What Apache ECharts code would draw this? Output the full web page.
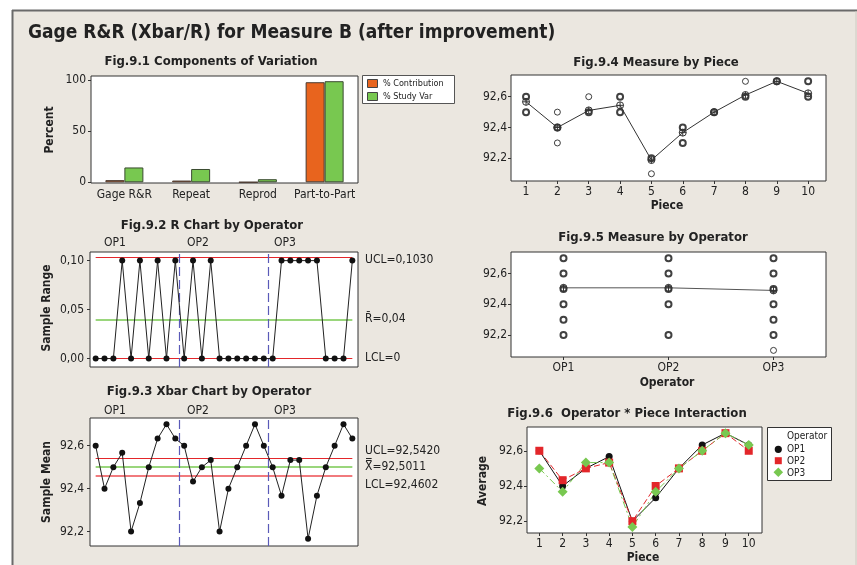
<!DOCTYPE html>
<html><head><meta charset="utf-8">
<script src="https://cdn.jsdelivr.net/npm/echarts@6/dist/echarts.min.js"></script>
<style>html,body{margin:0;padding:0;background:#fff}#c{width:857px;height:565px}</style>
</head><body><div id="c"></div>
<script>
// ---------- data ----------
const componentCategories = ['Gage R&R', 'Repeat', 'Reprod', 'Part-to-Part'];
const pctContribution = [2.1, 1.7, 0.1, 97.9];
const pctStudyVar = [14.5, 13.0, 3.0, 98.9];

const operators = ['OP1', 'OP2', 'OP3'];
const pieces = [1, 2, 3, 4, 5, 6, 7, 8, 9, 10];

const rangeOP1 = [0, 0, 0, 0.1, 0, 0.1, 0, 0.1, 0, 0.1];
const rangeOP2 = [0, 0.1, 0, 0.1, 0, 0, 0, 0, 0, 0];
const rangeOP3 = [0, 0.1, 0.1, 0.1, 0.1, 0.1, 0, 0, 0, 0.1];
const rChartLimits = [0.1030, 0.04, 0];          // UCL, R-bar, LCL

const xbarOP1 = [92.6, 92.4, 92.5, 92.567, 92.2, 92.333, 92.5, 92.633, 92.7, 92.633];
const xbarOP2 = [92.6, 92.433, 92.5, 92.533, 92.2, 92.4, 92.5, 92.6, 92.7, 92.6];
const xbarOP3 = [92.5, 92.367, 92.533, 92.533, 92.167, 92.367, 92.5, 92.6, 92.7, 92.633];
const xbarChartLimits = [92.5420, 92.5011, 92.4602];  // UCL, X-double-bar, LCL

const pieceMeans = [92.567, 92.4, 92.511, 92.544, 92.189, 92.367, 92.5, 92.611, 92.7, 92.622];
const operatorMeans = [92.507, 92.507, 92.490];

// individual measurements: operator -> piece -> 3 trials
const measOP1 = [[92.6,92.6,92.6],[92.4,92.4,92.4],[92.5,92.5,92.5],[92.5,92.6,92.6],[92.2,92.2,92.2],
                 [92.3,92.3,92.4],[92.5,92.5,92.5],[92.6,92.6,92.7],[92.7,92.7,92.7],[92.6,92.6,92.7]];
const measOP2 = [[92.6,92.6,92.6],[92.4,92.4,92.5],[92.5,92.5,92.5],[92.5,92.5,92.6],[92.2,92.2,92.2],
                 [92.4,92.4,92.4],[92.5,92.5,92.5],[92.6,92.6,92.6],[92.7,92.7,92.7],[92.6,92.6,92.6]];
const measOP3 = [[92.5,92.5,92.5],[92.3,92.4,92.4],[92.5,92.5,92.6],[92.5,92.5,92.6],[92.1,92.2,92.2],
                 [92.3,92.4,92.4],[92.5,92.5,92.5],[92.6,92.6,92.6],[92.7,92.7,92.7],[92.6,92.6,92.7]];

const percentTicks = [0, 50, 100];
const rangeTicks = [0, 0.05, 0.10];
const measureTicks = [92.2, 92.4, 92.6];

// ---------- helpers ----------
const FONT = '"DejaVu Sans Condensed", "DejaVu Sans", Verdana, sans-serif';
const TXT = '#222';
const RED = '#e3262a', GREEN = '#78c850', ORANGE = '#e8641e', BLUE = '#5a5ab8';
const comma = (v, d) => v.toFixed(d).replace('.', ',');

const allRanges = rangeOP1.concat(rangeOP2, rangeOP3);
const allXbar = xbarOP1.concat(xbarOP2, xbarOP3);
const subgroupData = arr => arr.map((v, i) => [i + 1, v]);
const measAll = [measOP1, measOP2, measOP3];

function dotData(keyFn) {
  const counts = {};
  measAll.forEach((op, oi) => op.forEach((trials, pi) => trials.forEach(v => {
    const k = keyFn(oi, pi) + '|' + v;
    counts[k] = (counts[k] || 0) + 1;
  })));
  return Object.keys(counts).map(k => {
    const [x, y] = k.split('|');
    return { value: [+x, +y], itemStyle: { borderWidth: counts[k] > 1 ? 2 : 1 } };
  });
}
const byPieceDots = dotData((oi, pi) => pieces[pi]);
const byOperatorDots = dotData((oi, pi) => oi);

const meanSymbol = 'path://M10,5A5,5,0,1,1,0,5A5,5,0,1,1,10,5ZM5,0L5,10M0,5L10,5';

const gridBase = { show: true, backgroundColor: '#fff', borderColor: '#333', borderWidth: 1, containLabel: false };
const yBase = (gi, min, max, ticks, dec, margin) => ({
  type: 'value', gridIndex: gi, min: min, max: max,
  splitLine: { show: false }, axisLine: { show: false },
  axisTick: { show: true, length: 3, lineStyle: { color: '#333' }, customValues: ticks },
  axisLabel: { customValues: ticks, color: TXT, fontFamily: FONT, fontSize: 12, margin: margin,
    formatter: v => dec < 0 ? String(v) : comma(v, dec) }
});
const xPiece = (gi, min, max) => ({
  type: 'value', gridIndex: gi, min: min, max: max,
  splitLine: { show: false }, axisLine: { show: false },
  axisTick: { show: true, length: 3, lineStyle: { color: '#333' }, customValues: pieces },
  axisLabel: { customValues: pieces, color: TXT, fontFamily: FONT, fontSize: 12, margin: 5 }
});
const xHidden = gi => ({ type: 'value', gridIndex: gi, min: 0.36, max: 30.64, show: false, splitLine: { show: false } });

function txt(text, x, y, size, bold, align, rot, color) {
  const el = { type: 'text', x: x, y: y, silent: true,
    style: { text: text, x: 0, y: 0, fill: color || TXT, font: (bold ? 'bold ' : '') + size + 'px ' + FONT,
      textAlign: align || 'center', textVerticalAlign: 'middle' } };
  if (rot) el.rotation = rot;
  return el;
}

const limitLine = (y, color, w) => {
  const ls = { color: color, width: w || 1, type: 'solid', opacity: 1 };
  return [{ coord: [1, y], lineStyle: ls }, { coord: [30, y], lineStyle: ls }];
};
const opDivider = x => ({ xAxis: x, lineStyle: { color: BLUE, width: 1.2, type: [9, 4] } });

const chart = echarts.init(document.getElementById('c'), null, { renderer: 'canvas' });

const graphics = [
  { type: 'rect', z: -10, silent: true, shape: { x: 12, y: 10, width: 845, height: 560 }, style: { fill: '#ebe7e0' } },
  { type: 'line', z: -9, silent: true, shape: { x1: 12.5, y1: 10, x2: 12.5, y2: 565 }, style: { stroke: '#6a6a6a', lineWidth: 2 } },
  { type: 'line', z: -9, silent: true, shape: { x1: 12, y1: 10.5, x2: 857, y2: 10.5 }, style: { stroke: '#6a6a6a', lineWidth: 2 } },
  { type: 'line', z: -9, silent: true, shape: { x1: 856, y1: 11, x2: 856, y2: 565 }, style: { stroke: '#cfcac2', lineWidth: 1 } },

  txt('Gage R&R (Xbar/R) for Measure B (after improvement)', 28, 33, 19, true, 'left'),
  txt('Fig.9.1 Components of Variation', 211, 62, 13, true),
  txt('Fig.9.2 R Chart by Operator', 212, 226, 13, true),
  txt('Fig.9.3 Xbar Chart by Operator', 209, 392, 13, true),
  txt('Fig.9.4 Measure by Piece', 656, 63, 13, true),
  txt('Fig.9.5 Measure by Operator', 653, 238, 13, true),
  txt('Fig.9.6  Operator * Piece Interaction', 627, 414, 13, true),

  txt('Percent', 50, 130, 12, true, 'center', Math.PI / 2),
  txt('Sample Range', 47, 308, 12, true, 'center', Math.PI / 2),
  txt('Sample Mean', 47, 482, 12, true, 'center', Math.PI / 2),
  txt('Average', 483, 481, 12, true, 'center', Math.PI / 2),
  txt('Piece', 667, 206, 12, true),
  txt('Operator', 667, 383, 12, true),
  txt('Piece', 643, 558, 12, true),

  txt(operators[0], 115, 243, 12, false), txt(operators[1], 198, 243, 12, false), txt(operators[2], 285, 243, 12, false),
  txt(operators[0], 115, 411, 12, false), txt(operators[1], 198, 411, 12, false), txt(operators[2], 285, 411, 12, false),

  txt('UCL=' + comma(rChartLimits[0], 4), 365, 260, 12, false, 'left'),
  txt('R\u0304=' + comma(rChartLimits[1], 2), 365, 319, 12, false, 'left'),
  txt('LCL=' + comma(rChartLimits[2], 0), 365, 358, 12, false, 'left'),
  txt('UCL=' + comma(xbarChartLimits[0], 4), 365, 451, 12, false, 'left'),
  txt('X\u033F=' + comma(xbarChartLimits[1], 4), 365, 467, 12, false, 'left'),
  txt('LCL=' + comma(xbarChartLimits[2], 4), 365, 485, 12, false, 'left'),

  // legend Fig 9.1
  { type: 'rect', silent: true, shape: { x: 362.5, y: 75.5, width: 92, height: 28 }, style: { fill: '#fff', stroke: '#555', lineWidth: 1 } },
  { type: 'rect', silent: true, shape: { x: 367.5, y: 79.5, width: 10, height: 8 }, style: { fill: ORANGE, stroke: '#444', lineWidth: 1 } },
  { type: 'rect', silent: true, shape: { x: 367.5, y: 92.5, width: 10, height: 8 }, style: { fill: GREEN, stroke: '#444', lineWidth: 1 } },
  txt('% Contribution', 383, 84, 9, false, 'left'),
  txt('% Study Var', 383, 97, 9, false, 'left'),

  // legend Fig 9.6
  { type: 'rect', silent: true, shape: { x: 767.5, y: 427.5, width: 64, height: 53 }, style: { fill: '#fff', stroke: '#333', lineWidth: 1 } },
  txt('Operator', 787, 436, 10, false, 'left'),
  { type: 'circle', silent: true, shape: { cx: 778.3, cy: 449.3, r: 3.6 }, style: { fill: '#111' } },
  { type: 'rect', silent: true, shape: { x: 774.8, y: 457.2, width: 7, height: 7 }, style: { fill: RED } },
  { type: 'polygon', silent: true, shape: { points: [[778.3, 467.5], [783.1, 472.3], [778.3, 477.1], [773.5, 472.3]] }, style: { fill: GREEN } },
  txt(operators[0], 787, 449.5, 10, false, 'left'),
  txt(operators[1], 787, 461, 10, false, 'left'),
  txt(operators[2], 787, 473, 10, false, 'left')
];

const option = {
  animation: false,
  backgroundColor: '#fff',
  grid: [
    Object.assign({ left: 91, top: 76, width: 267, height: 107 }, gridBase),
    Object.assign({ left: 90, top: 252, width: 268, height: 115 }, gridBase),
    Object.assign({ left: 90, top: 418, width: 268, height: 128 }, gridBase),
    Object.assign({ left: 511, top: 75, width: 315, height: 106 }, gridBase),
    Object.assign({ left: 511, top: 252, width: 315, height: 105 }, gridBase),
    Object.assign({ left: 527, top: 427, width: 235, height: 106 }, gridBase)
  ],
  xAxis: [
    { type: 'category', gridIndex: 0, data: componentCategories, axisLine: { show: false }, axisTick: { show: false },
      axisLabel: { color: TXT, fontFamily: FONT, fontSize: 12, margin: 6, interval: 0 } },
    xHidden(1),
    xHidden(2),
    xPiece(3, 0.52, 10.57),
    { type: 'category', gridIndex: 4, data: operators, axisLine: { show: false },
      axisTick: { show: true, alignWithLabel: true, length: 3, lineStyle: { color: '#333' } },
      axisLabel: { color: TXT, fontFamily: FONT, fontSize: 12, margin: 5 } },
    xPiece(5, 0.47, 10.57)
  ],
  yAxis: [
    yBase(0, -0.7, 104, percentTicks, -1, 5),
    yBase(1, -0.0086, 0.1088, rangeTicks, 2, 6),
    yBase(2, 92.133, 92.729, measureTicks, 1, 6),
    yBase(3, 92.053, 92.741, measureTicks, 1, 4),
    yBase(4, 92.057, 92.74, measureTicks, 1, 4),
    yBase(5, 92.133, 92.735, measureTicks, 1, 4)
  ],
  graphic: graphics,
  series: [
    // Fig 9.1
    { type: 'bar', xAxisIndex: 0, yAxisIndex: 0, data: pctContribution, barWidth: 19, barGap: '0%',
      itemStyle: { color: ORANGE, borderColor: '#4a3a30', borderWidth: 1 } },
    { type: 'bar', xAxisIndex: 0, yAxisIndex: 0, data: pctStudyVar, barWidth: 19, barGap: '0%',
      itemStyle: { color: GREEN, borderColor: '#3a4a30', borderWidth: 1 } },
    // Fig 9.2
    { type: 'line', xAxisIndex: 1, yAxisIndex: 1, data: subgroupData(allRanges), symbol: 'circle', symbolSize: 6,
      itemStyle: { color: '#111' }, lineStyle: { color: '#222', width: 1 }, z: 5,
      markLine: { silent: true, symbol: 'none', label: { show: false }, z: 3,
        data: [limitLine(rChartLimits[0], RED), limitLine(rChartLimits[1], GREEN, 1.5), limitLine(rChartLimits[2], RED),
               opDivider(10.5), opDivider(20.5)] } },
    // Fig 9.3
    { type: 'line', xAxisIndex: 2, yAxisIndex: 2, data: subgroupData(allXbar), symbol: 'circle', symbolSize: 6,
      itemStyle: { color: '#111' }, lineStyle: { color: '#222', width: 1 }, z: 5,
      markLine: { silent: true, symbol: 'none', label: { show: false }, z: 3,
        data: [limitLine(xbarChartLimits[0], RED, 1.2), limitLine(xbarChartLimits[1], GREEN, 1.5), limitLine(xbarChartLimits[2], '#ec4e52', 1.6),
               opDivider(10.5), opDivider(20.5)] } },
    // Fig 9.4
    { type: 'scatter', xAxisIndex: 3, yAxisIndex: 3, data: byPieceDots, symbol: 'circle', symbolSize: 6,
      itemStyle: { color: '#fff', borderColor: '#111' } },
    { type: 'line', xAxisIndex: 3, yAxisIndex: 3, data: pieces.map((p, i) => [p, pieceMeans[i]]), symbol: meanSymbol, symbolSize: 7,
      itemStyle: { color: 'rgba(0,0,0,0)', borderColor: '#333', borderWidth: 1 }, lineStyle: { color: '#333', width: 1 }, z: 4 },
    // Fig 9.5
    { type: 'scatter', xAxisIndex: 4, yAxisIndex: 4, data: byOperatorDots, symbol: 'circle', symbolSize: 6,
      itemStyle: { color: '#fff', borderColor: '#111' } },
    { type: 'line', xAxisIndex: 4, yAxisIndex: 4, data: operatorMeans, symbol: meanSymbol, symbolSize: 7,
      itemStyle: { color: 'rgba(0,0,0,0)', borderColor: '#333', borderWidth: 1 }, lineStyle: { color: '#555', width: 1 }, z: 4 },
    // Fig 9.6
    { type: 'line', xAxisIndex: 5, yAxisIndex: 5, data: pieces.map((p, i) => [p, xbarOP1[i]]), symbol: 'circle', symbolSize: 7,
      itemStyle: { color: '#111' }, lineStyle: { color: '#111', width: 1 } },
    { type: 'line', xAxisIndex: 5, yAxisIndex: 5, data: pieces.map((p, i) => [p, xbarOP2[i]]), symbol: 'rect', symbolSize: 8,
      itemStyle: { color: RED }, lineStyle: { color: RED, width: 1, type: [6, 3] } },
    { type: 'line', xAxisIndex: 5, yAxisIndex: 5, data: pieces.map((p, i) => [p, xbarOP3[i]]), symbol: 'diamond', symbolSize: 10,
      itemStyle: { color: GREEN }, lineStyle: { color: GREEN, width: 1, type: [7, 3, 2, 3] } }
  ]
};
chart.setOption(option);
</script>
</body></html>
